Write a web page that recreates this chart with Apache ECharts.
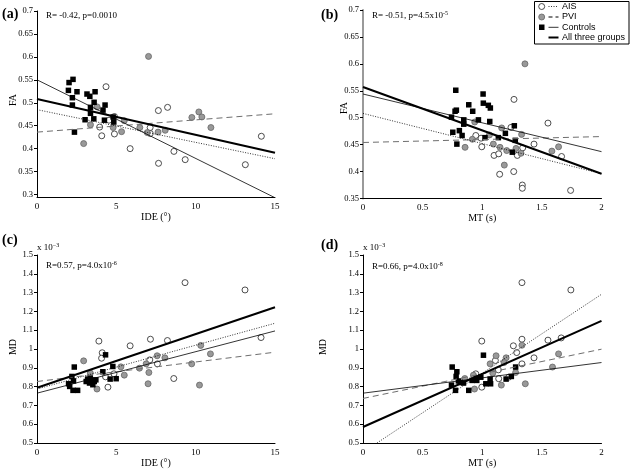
<!DOCTYPE html>
<html><head><meta charset="utf-8">
<script src="https://cdn.jsdelivr.net/npm/echarts@6/dist/echarts.min.js"></script>
<style>html,body{margin:0;padding:0;background:#fff}#c{width:631px;height:469px}</style>
</head><body><div id="c"></div>
<script>
// ---------- DATA ----------
// Panel (a): FA vs IDE (deg)
const a_AIS = [[4.35,0.535],[7.65,0.483],[8.23,0.490],[3.95,0.447],[4.08,0.428],[4.54,0.462],[4.88,0.432],[4.88,0.470],[5.87,0.400],[7.13,0.446],[7.14,0.433],[7.66,0.368],[8.63,0.394],[9.34,0.376],[13.13,0.365],[14.14,0.427]];
const a_PVI = [[7.03,0.601],[2.94,0.411],[3.37,0.452],[3.79,0.491],[4.80,0.446],[5.33,0.437],[5.50,0.461],[6.48,0.446],[6.95,0.435],[7.63,0.436],[8.08,0.440],[9.76,0.468],[10.2,0.480],[10.39,0.469],[10.96,0.446]];
const a_CON = [[2.02,0.544],[2.27,0.551],[1.98,0.527],[2.52,0.524],[2.23,0.511],[2.23,0.495],[3.15,0.519],[3.33,0.514],[3.66,0.524],[3.37,0.490],[3.60,0.501],[4.29,0.495],[3.37,0.477],[3.03,0.463],[3.58,0.465],[4.16,0.484],[4.25,0.462],[4.84,0.458],[4.80,0.469],[2.36,0.436]];
const a_fitAll = [[0,0.508],[15,0.391]];
const a_fitCON = [[0,0.550],[15,0.293]];
const a_fitAIS = [[0,0.485],[15,0.378]];
const a_fitPVI = [[0,0.436],[15,0.476]];
// Panel (b): FA vs MT (s)
const b_AIS = [[1.266,0.534],[1.551,0.490],[1.241,0.482],[0.946,0.467],[0.996,0.446],[0.99,0.462],[1.099,0.430],[1.138,0.433],[1.146,0.395],[1.264,0.400],[1.294,0.430],[1.339,0.444],[1.434,0.451],[1.665,0.428],[1.336,0.375],[1.336,0.369],[1.741,0.365]];
const b_PVI = [[0.937,0.492],[1.163,0.481],[1.33,0.469],[1.358,0.600],[0.856,0.445],[0.917,0.460],[1.06,0.468],[1.093,0.451],[1.149,0.445],[1.205,0.439],[1.185,0.412],[1.283,0.443],[1.325,0.434],[1.584,0.438],[1.64,0.446]];
const b_CON = [[0.778,0.551],[1.007,0.544],[1.009,0.527],[1.051,0.523],[1.068,0.518],[0.887,0.524],[0.92,0.512],[0.783,0.514],[0.772,0.512],[0.742,0.501],[0.845,0.496],[0.845,0.488],[0.968,0.496],[1.063,0.493],[0.753,0.473],[0.808,0.476],[0.831,0.467],[0.787,0.451],[1.269,0.485],[1.194,0.471],[1.135,0.463],[1.277,0.458],[1.252,0.436],[1.023,0.463]];
const b_fitAll = [[0,0.557],[2,0.396]];
const b_fitCON = [[0,0.544],[2,0.437]];
const b_fitAIS = [[0,0.508],[2,0.396]];
const b_fitPVI = [[0,0.454],[2,0.465]];
// Panel (c): MD (x10^-3) vs IDE (deg)
const c_AIS = [[9.33,1.353],[13.11,1.314],[14.12,1.061],[3.9,1.042],[7.15,1.052],[8.22,1.045],[5.87,1.017],[4.11,0.980],[4.07,0.951],[4.47,0.797],[4.32,0.852],[4.85,0.868],[7.11,0.942],[7.59,0.921],[8.62,0.843]];
const c_PVI = [[2.94,0.937],[3.36,0.872],[3.78,0.787],[5.29,0.905],[5.5,0.861],[6.46,0.898],[6.88,0.921],[7.05,0.875],[7.0,0.815],[7.57,0.964],[8.06,0.953],[9.75,0.921],[10.24,0.808],[10.32,1.019],[10.93,0.974]];
const c_CON = [[2.35,0.904],[2.2,0.854],[1.99,0.815],[2.06,0.801],[2.27,0.780],[2.56,0.780],[3.1,0.827],[3.19,0.840],[3.36,0.845],[3.31,0.819],[3.61,0.827],[3.52,0.810],[3.71,0.836],[4.15,0.879],[4.32,0.969],[4.78,0.907],[4.61,0.840],[4.99,0.842],[3.4,0.835],[2.3,0.83]];
const c_fitAll = [[0,0.794],[15,1.222]];
const c_fitCON = [[0,0.765],[15,1.096]];
const c_fitAIS = [[0,0.787],[15,1.137]];
const c_fitPVI = [[0,0.827],[15,0.983]];
// Panel (d): MD (x10^-3) vs MT (s)
const d_AIS = [[1.333,1.353],[1.743,1.314],[1.662,1.059],[1.551,1.047],[1.333,1.052],[0.996,1.042],[1.261,1.017],[1.289,0.981],[1.434,0.953],[1.333,0.921],[1.11,0.939],[0.946,0.868],[1.135,0.889],[1.222,0.85],[1.138,0.842],[0.996,0.797]];
const d_PVI = [[1.333,1.020],[1.64,0.974],[1.589,0.904],[1.361,0.815],[1.116,0.964],[1.2,0.953],[1.066,0.921],[1.183,0.928],[1.088,0.872],[1.28,0.875],[1.16,0.808],[0.854,0.843],[0.935,0.787],[0.926,0.861]];
const d_CON = [[0.748,0.904],[0.787,0.879],[0.781,0.854],[0.742,0.808],[0.776,0.780],[0.815,0.822],[0.843,0.819],[0.887,0.780],[0.915,0.833],[0.954,0.833],[0.988,0.850],[1.01,0.967],[1.03,0.815],[1.066,0.840],[1.07,0.815],[1.2,0.840],[1.244,0.854],[1.28,0.904],[0.95,0.845],[0.8,0.83]];
const d_fitAll = [[0,0.585],[2,1.150]];
const d_fitCON = [[0,0.765],[2,0.928]];
const d_fitAIS = [[0.117,0.5],[2,1.291]];
const d_fitPVI = [[0,0.737],[2,0.999]];
// Tick labels
const faTicksA = [0.3,0.35,0.4,0.45,0.5,0.55,0.6,0.65,0.7];
const ideTicks = [0,5,10,15];
const mtTicks = [0,0.5,1,1.5,2];
const mdTicks = [0.5,0.6,0.7,0.8,0.9,1,1.1,1.2,1.3,1.4,1.5];

// ---------- CHART ----------
const SERIF = 'Liberation Serif, Times New Roman, serif';
const SANS = 'Liberation Sans, Arial, sans-serif';
const chart = echarts.init(document.getElementById('c'), null, {renderer:'canvas'});

const grids = [
  {left:37, top:11, width:238, height:186.5},
  {left:363, top:10, width:238.5, height:188.5},
  {left:37, top:255, width:238, height:188},
  {left:363, top:255, width:238.5, height:188}
];
function xAx(i, min, max, interval, name){
  return {gridIndex:i, type:'value', min, max, interval,
    name, nameLocation:'middle', nameGap:11,
    nameTextStyle:{fontFamily:SERIF, fontSize:10, color:'#000'},
    axisLine:{lineStyle:{color:'#000', width:1}},
    axisTick:{show:false},
    axisLabel:{fontFamily:SERIF, fontSize:9, color:'#000', margin:5},
    splitLine:{show:false}};
}
function yAx(i, min, max, interval, lineColor, lineWidth, custom){
  const ax = {gridIndex:i, type:'value', min, max,
    axisLine:{show:true, lineStyle:{color:lineColor, width:lineWidth}},
    axisTick:{show:true, length:3, inside:false, lineStyle:{color:'#000', width:1}},
    axisLabel:{fontFamily:SERIF, fontSize:8.5, color:'#000', margin:4},
    splitLine:{show:false}};
  if (custom){ ax.axisTick.customValues = custom; ax.axisLabel.customValues = custom; }
  else ax.interval = interval;
  return ax;
}
const xAxes = [ xAx(0,0,15,5,'IDE (°)'), xAx(1,0,2,0.5,'MT (s)'), xAx(2,0,15,5,'IDE (°)'), xAx(3,0,2,0.5,'MT (s)') ];
const yAxes = [ yAx(0,0.2935,0.7,null,'#000',1,faTicksA), yAx(1,0.35,0.7,0.05,'#9a9a9a',2), yAx(2,0.5,1.5,0.1,'#000',1), yAx(3,0.5,1.5,0.1,'#000',1) ];

const series = [];
function addPanel(i, ais, pvi, con, fAll, fCon, fAis, fPvi){
  series.push({type:'scatter', xAxisIndex:i, yAxisIndex:i, data:ais, symbol:'circle', symbolSize:6,
    itemStyle:{color:'#fff', borderColor:'#222', borderWidth:0.8, opacity:1}, z:2});
  series.push({type:'scatter', xAxisIndex:i, yAxisIndex:i, data:pvi, symbol:'circle', symbolSize:6,
    itemStyle:{color:'#999', borderColor:'#666', borderWidth:0.8, opacity:1}, z:2});
  series.push({type:'scatter', xAxisIndex:i, yAxisIndex:i, data:con, symbol:'rect', symbolSize:5.5,
    itemStyle:{color:'#000', opacity:1}, z:3});
  const L = (data, style) => series.push({type:'line', xAxisIndex:i, yAxisIndex:i, data, symbol:'none',
    lineStyle:style, z:4, silent:true});
  L(fPvi, {color:'#6e6e6e', width:1, type:[6,4]});
  L(fAis, {color:'#000', width:0.8, type:[1,1.5]});
  L(fCon, {color:'#000', width:0.8, type:'solid'});
  L(fAll, {color:'#000', width:2, type:'solid'});
}
addPanel(0, a_AIS, a_PVI, a_CON, a_fitAll, a_fitCON, a_fitAIS, a_fitPVI);
addPanel(1, b_AIS, b_PVI, b_CON, b_fitAll, b_fitCON, b_fitAIS, b_fitPVI);
addPanel(2, c_AIS, c_PVI, c_CON, c_fitAll, c_fitCON, c_fitAIS, c_fitPVI);
addPanel(3, d_AIS, d_PVI, d_CON, d_fitAll, d_fitCON, d_fitAIS, d_fitPVI);

const rich = {
  n:{fontFamily:SERIF, fontSize:9, color:'#000', lineHeight:12},
  s:{fontFamily:SERIF, fontSize:6, color:'#000', verticalAlign:'top', lineHeight:6}
};
function txt(x, y, text, extra){
  return Object.assign({type:'text', x, y, silent:true, z:10,
    style:{text, rich, fontFamily:SERIF, fontSize:9, fill:'#000', align:'left', verticalAlign:'middle'}}, extra||{});
}
function label(x, y, t){
  return {type:'text', x, y, silent:true, z:10,
    style:{text:t, fontFamily:SERIF, fontSize:14, fontWeight:'bold', fill:'#000', align:'left', verticalAlign:'middle'}};
}
function yName(x, y, t){
  return {type:'text', x, y, rotation:Math.PI/2, silent:true, z:10,
    style:{text:t, fontFamily:SERIF, fontSize:10, fill:'#000', align:'center', verticalAlign:'middle'}};
}
const graphics = [
  label(2, 14, '(a)'), label(321, 15, '(b)'), label(2, 240, '(c)'), label(321, 245, '(d)'),
  txt(46, 16, '{n|R= -0.42, p=0.0010}'),
  txt(372, 16, '{n|R= -0.51, p=4.5x10}{s|-5}'),
  txt(46, 266, '{n|R=0.57, p=4.0x10}{s|-6}'),
  txt(372, 267, '{n|R=0.66, p=4.0x10}{s|-8}'),
  txt(37, 248, '{n|x 10}{s|−3}'),
  txt(363, 248, '{n|x 10}{s|−3}'),
  yName(13, 100, 'FA'), yName(344, 108, 'FA'), yName(13, 347, 'MD'), yName(323, 347, 'MD'),
  // legend box
  {type:'rect', shape:{x:534.5, y:1.5, width:94.5, height:42.5}, style:{fill:'#fff', stroke:'#000', lineWidth:1}, z:20, silent:true},
  {type:'circle', shape:{cx:541.7, cy:6.5, r:3}, style:{fill:'#fff', stroke:'#222', lineWidth:0.8}, z:21, silent:true},
  {type:'circle', shape:{cx:541.7, cy:17, r:3}, style:{fill:'#999', stroke:'#666', lineWidth:0.8}, z:21, silent:true},
  {type:'rect', shape:{x:539, y:24.5, width:5.5, height:5.5}, style:{fill:'#000'}, z:21, silent:true},
  {type:'line', shape:{x1:548.5, y1:6.5, x2:558.5, y2:6.5}, style:{stroke:'#000', lineWidth:0.8, lineDash:[1,1.5]}, z:21, silent:true},
  {type:'line', shape:{x1:548.5, y1:17, x2:558.5, y2:17}, style:{stroke:'#000', lineWidth:1, lineDash:[4,3]}, z:21, silent:true},
  {type:'line', shape:{x1:548.5, y1:27.3, x2:558.5, y2:27.3}, style:{stroke:'#000', lineWidth:0.8}, z:21, silent:true},
  {type:'line', shape:{x1:548.5, y1:37.5, x2:558.5, y2:37.5}, style:{stroke:'#000', lineWidth:2}, z:21, silent:true},
  {type:'text', x:562, y:6.5, style:{text:'AIS', fontFamily:SANS, fontSize:9, fill:'#000', verticalAlign:'middle'}, z:21, silent:true},
  {type:'text', x:562, y:17, style:{text:'PVI', fontFamily:SANS, fontSize:9, fill:'#000', verticalAlign:'middle'}, z:21, silent:true},
  {type:'text', x:562, y:27.3, style:{text:'Controls', fontFamily:SANS, fontSize:9, fill:'#000', verticalAlign:'middle'}, z:21, silent:true},
  {type:'text', x:562, y:37.5, style:{text:'All three groups', fontFamily:SANS, fontSize:9, fill:'#000', verticalAlign:'middle'}, z:21, silent:true}
];

chart.setOption({
  animation:false,
  backgroundColor:'#fff',
  grid:grids,
  xAxis:xAxes,
  yAxis:yAxes,
  series,
  graphic:graphics
});
</script></body></html>
